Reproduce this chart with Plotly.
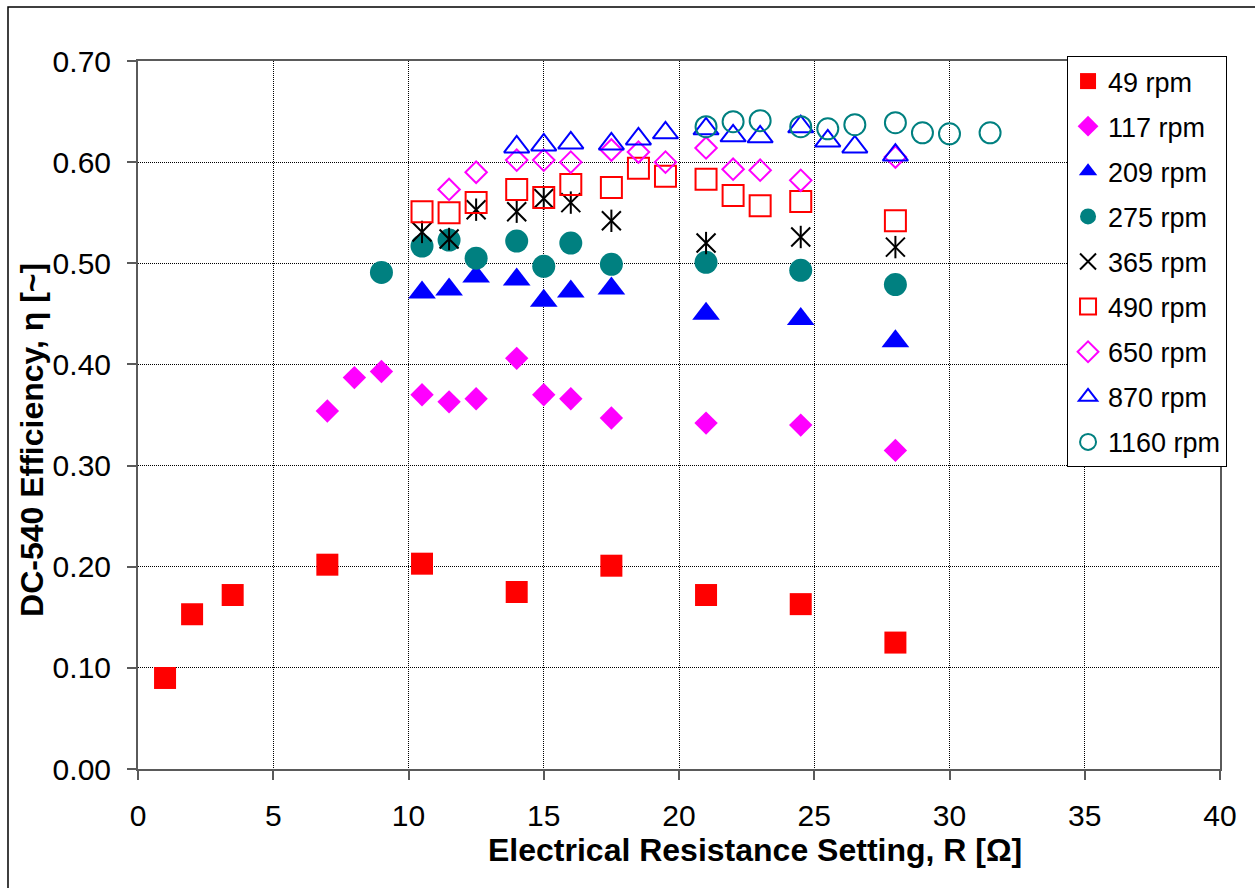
import plotly.graph_objects as go

# Electrical resistance setting R [ohm] and measured DC-540 efficiency per shaft speed
r_49 = [1, 2, 3.5, 7, 10.5, 14, 17.5, 21, 24.5, 28]
eta_49 = [0.090, 0.153, 0.172, 0.202, 0.203, 0.175, 0.201, 0.172, 0.163, 0.125]

r_117 = [7, 8, 9, 10.5, 11.5, 12.5, 14, 15, 16, 17.5, 21, 24.5, 28]
eta_117 = [0.354, 0.387, 0.393, 0.370, 0.363, 0.366, 0.406, 0.370, 0.366, 0.347, 0.342, 0.340, 0.315]

r_209 = [10.5, 11.5, 12.5, 14, 15, 16, 17.5, 21, 24.5, 28]
eta_209 = [0.471, 0.474, 0.487, 0.484, 0.463, 0.472, 0.475, 0.450, 0.445, 0.423]

r_275 = [9, 10.5, 11.5, 12.5, 14, 15, 16, 17.5, 21, 24.5, 28]
eta_275 = [0.491, 0.517, 0.523, 0.505, 0.522, 0.497, 0.520, 0.499, 0.501, 0.493, 0.479]

r_365 = [10.5, 11.5, 12.5, 14, 15, 16, 17.5, 21, 24.5, 28]
eta_365 = [0.531, 0.524, 0.553, 0.551, 0.564, 0.560, 0.542, 0.520, 0.526, 0.516]

r_490 = [10.5, 11.5, 12.5, 14, 15, 16, 17.5, 18.5, 19.5, 21, 22, 23, 24.5, 28]
eta_490 = [0.551, 0.550, 0.560, 0.573, 0.565, 0.578, 0.575, 0.594, 0.586, 0.583, 0.567, 0.557, 0.561, 0.542]

r_650 = [11.5, 12.5, 14, 15, 16, 17.5, 18.5, 19.5, 21, 22, 23, 24.5, 28]
eta_650 = [0.573, 0.590, 0.602, 0.602, 0.600, 0.612, 0.610, 0.600, 0.614, 0.593, 0.592, 0.582, 0.605]

r_870 = [14, 15, 16, 17.5, 18.5, 19.5, 21, 22, 23, 24.5, 25.5, 26.5, 28]
eta_870 = [0.615, 0.617, 0.619, 0.618, 0.623, 0.629, 0.633, 0.626, 0.625, 0.635, 0.621, 0.615, 0.607]

r_1160 = [21, 22, 23, 24.5, 25.5, 26.5, 28, 29, 30, 31.5]
eta_1160 = [0.635, 0.640, 0.641, 0.635, 0.633, 0.637, 0.639, 0.629, 0.628, 0.629]

x_ticks = [0, 5, 10, 15, 20, 25, 30, 35, 40]
y_ticks = [0.0, 0.1, 0.2, 0.3, 0.4, 0.5, 0.6, 0.7]

FONT = "Liberation Sans, Arial, sans-serif"
RED, MAGENTA, BLUE, TEAL = "#FF0000", "#FF00FF", "#0000FF", "#008080"

fig = go.Figure()


def add_series(name, r, eta, symbol, size, color, open_marker, show=True, group=None):
    fig.add_trace(go.Scatter(
        x=r, y=eta, mode="markers", name=name,
        legendgroup=group or name, showlegend=show,
        marker=dict(symbol=symbol, size=size, color=color,
                    line=dict(width=2 if open_marker else 0, color=color)),
        hoverinfo="x+y+name",
    ))


add_series("49 rpm", r_49, eta_49, "square", 22, RED, False)
add_series("117 rpm", r_117, eta_117, "diamond", 18, MAGENTA, False)
add_series("209 rpm", r_209, eta_209, "triangle-up", 24, BLUE, False)
add_series("275 rpm", r_275, eta_275, "circle", 23, TEAL, False)
# six-armed star: diagonal cross plus a vertical bar
add_series("365 rpm", r_365, eta_365, "x-thin-open", 19, "black", True)
add_series("365 rpm", r_365, eta_365, "line-ns-open", 16, "black", True,
           show=False, group="365 rpm")
add_series("490 rpm", r_490, eta_490, "square-open", 21, RED, True)
add_series("650 rpm", r_650, eta_650, "diamond-open", 16.5, MAGENTA, True)
add_series("870 rpm", r_870, eta_870, "triangle-up-open", 22, BLUE, True)
add_series("1160 rpm", r_1160, eta_1160, "circle-open", 21, TEAL, True)

axis_common = dict(
    showline=True, linecolor="#5a5a5a", linewidth=2, mirror=True,
    ticks="outside", ticklen=9, tickwidth=1.5, tickcolor="#5a5a5a",
    showgrid=True, gridcolor="black", gridwidth=1, griddash="1px,1px",
    zeroline=False, tickfont=dict(family=FONT, size=30, color="black"),
    ticklabelstandoff=10,
)

fig.update_xaxes(range=[0, 40], tickvals=x_ticks, ticktext=[str(v) for v in x_ticks],
                 **axis_common)
fig.update_yaxes(range=[0, 0.70], tickvals=y_ticks,
                 ticktext=[f"{v:.2f}" for v in y_ticks], **axis_common)

fig.update_layout(
    width=1255, height=888, autosize=False,
    margin=dict(l=138, r=35, t=61, b=119, autoexpand=False),
    paper_bgcolor="white", plot_bgcolor="white",
    font=dict(family=FONT, color="black"),
    showlegend=True,
    legend=dict(
        x=1.0065, xanchor="right", y=1.007, yanchor="top",
        bgcolor="white", bordercolor="black", borderwidth=1,
        font=dict(family=FONT, size=27, color="black"),
        tracegroupgap=7, traceorder="grouped",
    ),
    annotations=[
        dict(text="<b>Electrical Resistance Setting, R [Ω]</b>",
             xref="paper", yref="paper", x=0.5702, y=-0.1144,
             xanchor="center", yanchor="middle", showarrow=False,
             font=dict(family=FONT, size=32, color="black")),
        dict(text="<b>DC-540 Efficiency, η [~]</b>",
             xref="paper", yref="paper", x=-0.098, y=0.4647, textangle=-90,
             xanchor="center", yanchor="middle", showarrow=False,
             font=dict(family=FONT, size=32, color="black")),
    ],
    shapes=[
        # outer chart frame
        dict(type="rect", xref="paper", yref="paper",
             x0=-0.12015, y0=-0.185, x1=1.045, y1=1.0763,
             line=dict(color="black", width=1.5), layer="below"),
    ],
)

fig.write_html("out.html")
